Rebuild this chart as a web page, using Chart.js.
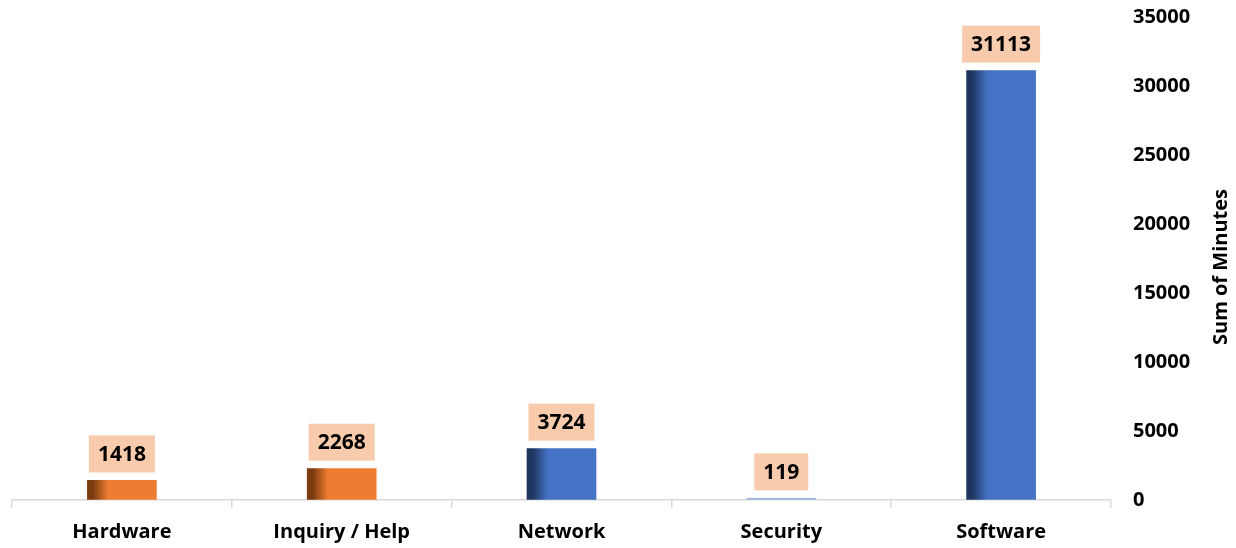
<!DOCTYPE html>
<html>
<head>
<meta charset="utf-8">
<script src="https://cdn.jsdelivr.net/npm/chart.js@4"></script>
<style>
    html, body { margin: 0; padding: 0; background: #fff; }
    #wrap { width: 1236px; height: 548px; }
</style>
</head>
<body>
<div id="wrap"><canvas id="graficaMinutos"></canvas></div>
<script>
// --- Datos ---
const categorias = ['Hardware', 'Inquiry / Help', 'Network', 'Security', 'Software'];
const minutos = [1418, 2268, 3724, 119, 31113];
const tipoColor = ['naranja', 'naranja', 'azul', 'azul', 'azul'];
const ticksY = [0, 5000, 10000, 15000, 20000, 25000, 30000, 35000];
const tituloY = 'Sum of Minutes';

// Colores base y su borde oscuro (efecto sombra a la izquierda)
const paleta = {
    naranja: { base: '#ED7D31', oscuro: '#7c3a10' },
    azul: { base: '#4472C4', oscuro: '#1f3560' }
};

const FUENTE = "'Open Sans', 'Liberation Sans', sans-serif";
const ANCHO_BARRA = 69;

// Degradado horizontal por barra
function colorBarra(ctx) {
    const c = paleta[tipoColor[ctx.dataIndex]] || paleta.azul;
    const chart = ctx.chart;
    const escalaX = chart.scales.x;
    if (ctx.type !== 'data' || !escalaX) return c.base;
    // barras casi planas: solo un tono claro
    if (minutos[ctx.dataIndex] < 500) return '#9db3dd';
    const centro = escalaX.getPixelForValue(ctx.dataIndex);
    if (!isFinite(centro)) return c.base;
    const izq = centro - ANCHO_BARRA / 2;
    const g = chart.ctx.createLinearGradient(izq, 0, izq + ANCHO_BARRA, 0);
    g.addColorStop(0, c.oscuro);
    g.addColorStop(0.08, c.oscuro);
    g.addColorStop(0.3, c.base);
    g.addColorStop(1, c.base);
    return g;
}

// --- Etiquetas con caja color durazno ---
const pluginEtiquetas = {
    id: 'etiquetas',
    afterDatasetsDraw(chart) {
        const ctx = chart.ctx;
        const meta = chart.getDatasetMeta(0);
        ctx.save();
        ctx.font = 'bold 21px ' + FUENTE;
        ctx.textAlign = 'center';
        ctx.textBaseline = 'middle';
        meta.data.forEach((barra, i) => {
            const texto = String(minutos[i]);
            const w = ctx.measureText(texto).width + 18;
            const h = 37;
            const y0 = barra.y - 8 - h;
            ctx.fillStyle = '#F8CBAD';
            ctx.fillRect(barra.x - w / 2, y0, w, h);
            ctx.fillStyle = '#000';
            ctx.fillText(texto, barra.x, y0 + h / 2 + 1);
        });
        ctx.restore();
    }
};

// --- Título del eje Y (girado hacia arriba) ---
const pluginTituloY = {
    id: 'tituloY',
    afterDraw(chart) {
        const ctx = chart.ctx;
        ctx.save();
        ctx.translate(1221, 267);
        ctx.rotate(-Math.PI / 2);
        ctx.font = 'bold 20px ' + FUENTE;
        ctx.fillStyle = '#000';
        ctx.textAlign = 'center';
        ctx.textBaseline = 'middle';
        ctx.fillText(tituloY, 0, 0);
        ctx.restore();
    }
};

const ctxMin = document.getElementById('graficaMinutos').getContext('2d');

new Chart(ctxMin, {
    type: 'bar',
    data: {
        labels: categorias,
        datasets: [{
            label: tituloY,
            data: minutos,
            backgroundColor: colorBarra,
            borderWidth: 0,
            barThickness: ANCHO_BARRA
        }]
    },
    options: {
        responsive: true,
        maintainAspectRatio: false,
        animation: false,
        layout: { padding: { top: 17, left: 12, right: 0, bottom: 0 } },
        plugins: {
            legend: { display: false },
            tooltip: { enabled: false }
        },
        scales: {
            x: {
                grid: {
                    offset: true,
                    drawOnChartArea: false,
                    drawTicks: true,
                    tickLength: 8,
                    color: '#d9d9d9',
                    lineWidth: 1.5
                },
                border: { display: true, color: '#d9d9d9', width: 1.5 },
                ticks: {
                    color: '#000',
                    padding: 12,
                    font: { family: FUENTE, size: 20, weight: 'bold' }
                },
                afterFit: (escala) => { escala.height = 48; }
            },
            y: {
                position: 'right',
                min: 0,
                max: 35000,
                afterBuildTicks: (escala) => {
                    escala.ticks = ticksY.map(v => ({ value: v }));
                },
                // marcas invisibles: solo sirven para separar los números del área
                grid: {
                    drawOnChartArea: false,
                    drawTicks: true,
                    tickLength: 22,
                    color: 'rgba(0,0,0,0)'
                },
                border: { display: false },
                ticks: {
                    color: '#000',
                    padding: 0,
                    callback: (v) => String(v),
                    font: { family: FUENTE, size: 20, weight: 'bold' }
                },
                afterFit: (escala) => { escala.width = 125; }
            }
        }
    },
    plugins: [pluginEtiquetas, pluginTituloY]
});
</script>
</body>
</html>
